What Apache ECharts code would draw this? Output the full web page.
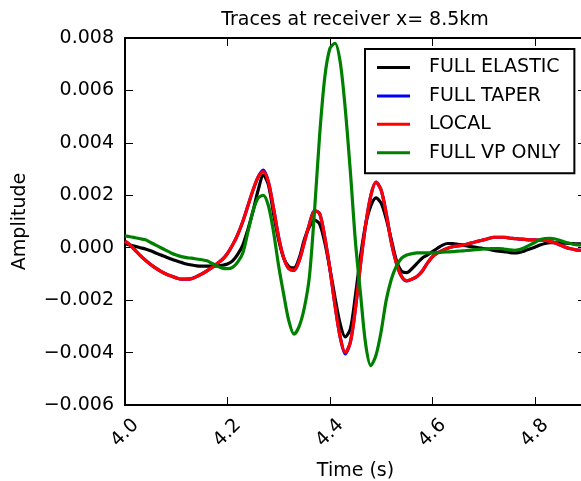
<!DOCTYPE html>
<html>
<head>
<meta charset="utf-8">
<script src="https://cdn.jsdelivr.net/npm/echarts@6/dist/echarts.min.js"></script>
<style>
html,body{margin:0;padding:0;background:#fff;}
#chart{width:581px;height:481px;}
</style>
</head>
<body>
<div id="chart"></div>
<script>
const times = [4.00,4.01,4.02,4.03,4.04,4.05,4.06,4.07,4.08,4.09,
4.10,4.11,4.12,4.13,4.14,4.15,4.16,4.17,4.18,4.19,
4.20,4.21,4.22,4.23,4.24,4.25,4.26,4.27,4.28,4.29,
4.30,4.31,4.32,4.33,4.34,4.35,4.36,4.37,4.38,4.39,
4.40,4.41,4.42,4.43,4.44,4.45,4.46,4.47,4.48,4.49,
4.50,4.51,4.52,4.53,4.54,4.55,4.56,4.57,4.58,4.59,
4.60,4.61,4.62,4.63,4.64,4.65,4.66,4.67,4.68,4.69,
4.70,4.71,4.72,4.73,4.74,4.75,4.76,4.77,4.78,4.79,
4.80,4.81,4.82,4.83,4.84,4.85,4.86,4.87,4.88,4.89];

const fullElastic = [0.00015,0.0001,0.00005,0.0,-0.00005,-0.00012,-0.0002,-0.00028,-0.00035,-0.00043,
-0.0005,-0.00056,-0.00062,-0.00066,-0.00069,-0.0007,-0.0007,-0.0007,-0.00069,-0.00067,
-0.00062,-0.0005,-0.00025,0.0001,0.0007,0.0014,0.0022,0.00277,0.0024,0.0013,
0.0003,-0.0004,-0.00072,-0.00077,-0.0004,0.0003,0.0008,0.00105,0.0009,0.0002,
-0.0008,-0.0019,-0.0029,-0.0034,-0.0031,-0.0018,-0.0003,0.0009,0.0016,0.0019,
0.0017,0.0011,0.0003,-0.0005,-0.0009,-0.00095,-0.0008,-0.0006,-0.0004,-0.00028,
-0.00015,-0.00002,0.0001,0.00016,0.00016,0.00013,0.0001,0.00006,0.00003,0.0,
-0.00003,-0.00006,-0.0001,-0.00013,-0.00015,-0.00018,-0.0002,-0.00018,-0.00012,-0.00005,
0.00002,0.0001,0.00016,0.00019,0.00019,0.00018,0.00017,0.00016,0.00015,0.00015];

const fullTaper = [0.00025,0.0001,-0.0001,-0.0003,-0.00048,-0.00064,-0.00078,-0.0009,-0.001,-0.00108,
-0.00115,-0.0012,-0.0012,-0.00118,-0.0011,-0.001,-0.00088,-0.00075,-0.0006,-0.00045,
-0.00022,0.0001,0.0005,0.001,0.0016,0.0022,0.0027,0.00296,0.0025,0.0015,
0.0004,-0.0004,-0.0008,-0.00087,-0.0005,0.0002,0.0009,0.00142,0.0013,0.0004,
-0.0008,-0.0022,-0.0034,-0.00405,-0.0036,-0.0023,-0.0006,0.0009,0.002,0.0025,
0.0022,0.0013,0.0002,-0.0006,-0.0011,-0.00127,-0.0012,-0.0011,-0.0009,-0.0006,
-0.00035,-0.0002,-0.0001,-0.00002,0.00004,0.00007,0.0001,0.00015,0.0002,0.00025,
0.0003,0.00035,0.0004,0.0004,0.0004,0.00037,0.00035,0.00033,0.00032,0.0003,
0.0003,0.00029,0.00028,0.00024,0.00018,0.0001,0.00002,-0.00004,-0.00008,-0.0001];

const local = [0.00025,0.0001,-0.0001,-0.0003,-0.00048,-0.00064,-0.00078,-0.0009,-0.001,-0.00108,
-0.00115,-0.0012,-0.0012,-0.00118,-0.0011,-0.001,-0.00088,-0.00075,-0.0006,-0.00045,
-0.00022,0.0001,0.0005,0.001,0.0016,0.0022,0.0027,0.0029,0.0025,0.0015,
0.0004,-0.0004,-0.0008,-0.00085,-0.0005,0.0002,0.0009,0.0014,0.0013,0.0004,
-0.0008,-0.0022,-0.0034,-0.004,-0.0036,-0.0023,-0.0006,0.0009,0.002,0.0025,
0.0022,0.0013,0.0002,-0.0006,-0.0011,-0.00126,-0.0012,-0.0011,-0.0009,-0.0006,
-0.00035,-0.0002,-0.0001,-0.00002,0.00004,0.00007,0.0001,0.00015,0.0002,0.00025,
0.0003,0.00035,0.0004,0.0004,0.0004,0.00037,0.00035,0.00033,0.00032,0.0003,
0.0003,0.00029,0.00028,0.00024,0.00018,0.0001,0.00002,-0.00004,-0.00008,-0.0001];

const fullVpOnly = [0.00045,0.00042,0.00038,0.00034,0.0003,0.0002,0.0001,0.0,-0.0001,-0.0002,
-0.00028,-0.00034,-0.00038,-0.0004,-0.00043,-0.00046,-0.0005,-0.0006,-0.0007,-0.00078,
-0.0008,-0.00075,-0.00055,-0.0002,0.0006,0.0014,0.0019,0.002,0.0016,0.0006,
-0.0007,-0.0018,-0.0028,-0.0033,-0.003,-0.0023,-0.0011,0.0014,0.0043,0.0065,
0.0076,0.0078,0.0071,0.0053,0.0029,0.0002,-0.0018,-0.0037,-0.0045,-0.0041,
-0.0032,-0.002,-0.0012,-0.0007,-0.0004,-0.00028,-0.00023,-0.0002,-0.0002,-0.0002,
-0.0002,-0.00019,-0.00017,-0.00016,-0.00015,-0.00013,-0.00012,-0.0001,-0.00008,-0.00006,
-0.00005,-0.00004,-0.00003,-0.00003,-0.00005,-0.00008,-0.0001,-0.00007,0.0,0.0001,
0.0002,0.0003,0.00035,0.00036,0.00033,0.00027,0.00021,0.00016,0.00012,0.0001];

const seriesNames = ['FULL ELASTIC','FULL TAPER','LOCAL','FULL VP ONLY'];
const seriesValues = [fullElastic, fullTaper, local, fullVpOnly];
const seriesColors = ['#000000','#0000ff','#ff0000','#008000'];

const xMin = 4.0, xMax = 4.9, xInterval = 0.2;
const yMin = -0.006, yMax = 0.008, yInterval = 0.002;

const FONT = 'DejaVu Sans';
const chart = echarts.init(document.getElementById('chart'), null, {renderer:'canvas'});

const axisLine = {show:true, onZero:false, lineStyle:{color:'#000', width:2}};
const axisTick = {show:true, inside:true, length:8, lineStyle:{color:'#000', width:1}};

const option = {
  animation:false,
  backgroundColor:'#ffffff',
  title:{
    text:'Traces at receiver x= 8.5km',
    left:355, top:11, textAlign:'center', padding:0,
    textStyle:{fontFamily:FONT, fontSize:19, fontWeight:'normal', color:'#000'}
  },
  grid:{left:125, top:38, width:461, height:367, containLabel:false, outerBoundsMode:'none'},
  legend:{
    orient:'vertical', left:365, top:49,
    backgroundColor:'#ffffff', borderColor:'#000', borderWidth:2, borderRadius:0,
    padding:[9,14,11,12], itemWidth:33, itemHeight:3, itemGap:9.4,
    icon:'rect',
    textStyle:{fontFamily:FONT, fontSize:19, color:'#000', lineHeight:19, padding:[0,0,0,14]},
    data:seriesNames
  },
  xAxis:[{
    type:'value', min:xMin, max:xMax, interval:xInterval, position:'bottom',
    axisLine:axisLine, axisTick:axisTick, splitLine:{show:false},
    axisLabel:{rotate:45, align:'center', verticalAlign:'middle', margin:28,
      fontFamily:FONT, fontSize:19, color:'#000', showMaxLabel:false,
      formatter:v=>v.toFixed(1)},
    name:'Time (s)', nameLocation:'middle', nameGap:57,
    nameTextStyle:{fontFamily:FONT, fontSize:19, color:'#000'}
  },{
    type:'value', min:xMin, max:xMax, interval:xInterval, position:'top',
    axisLine:axisLine, axisTick:axisTick, splitLine:{show:false},
    axisLabel:{show:false}
  }],
  yAxis:[{
    type:'value', min:yMin, max:yMax, interval:yInterval, position:'left',
    axisLine:axisLine, axisTick:axisTick, splitLine:{show:false},
    axisLabel:{margin:11, fontFamily:FONT, fontSize:19, color:'#000',
      formatter:v=>{ const r = Math.round(v*1000)/1000; return (r<0?'\u2212':'') + Math.abs(r).toFixed(3); }},
    name:'Amplitude', nameLocation:'middle', nameGap:95,
    nameTextStyle:{fontFamily:FONT, fontSize:19, color:'#000'}
  },{
    type:'value', min:yMin, max:yMax, interval:yInterval, position:'right',
    axisLine:axisLine, axisTick:axisTick, splitLine:{show:false},
    axisLabel:{show:false}
  }],
  series: seriesNames.map((name,k)=>({
    name:name, type:'line', xAxisIndex:0, yAxisIndex:0,
    data: times.map((t,i)=>[t, seriesValues[k][i]]),
    showSymbol:false, symbol:'none', smooth:0.3,
    lineStyle:{color:seriesColors[k], width:3.2},
    itemStyle:{color:seriesColors[k]},
    z:2+k
  }))
};
chart.setOption(option);
</script>
</body>
</html>
